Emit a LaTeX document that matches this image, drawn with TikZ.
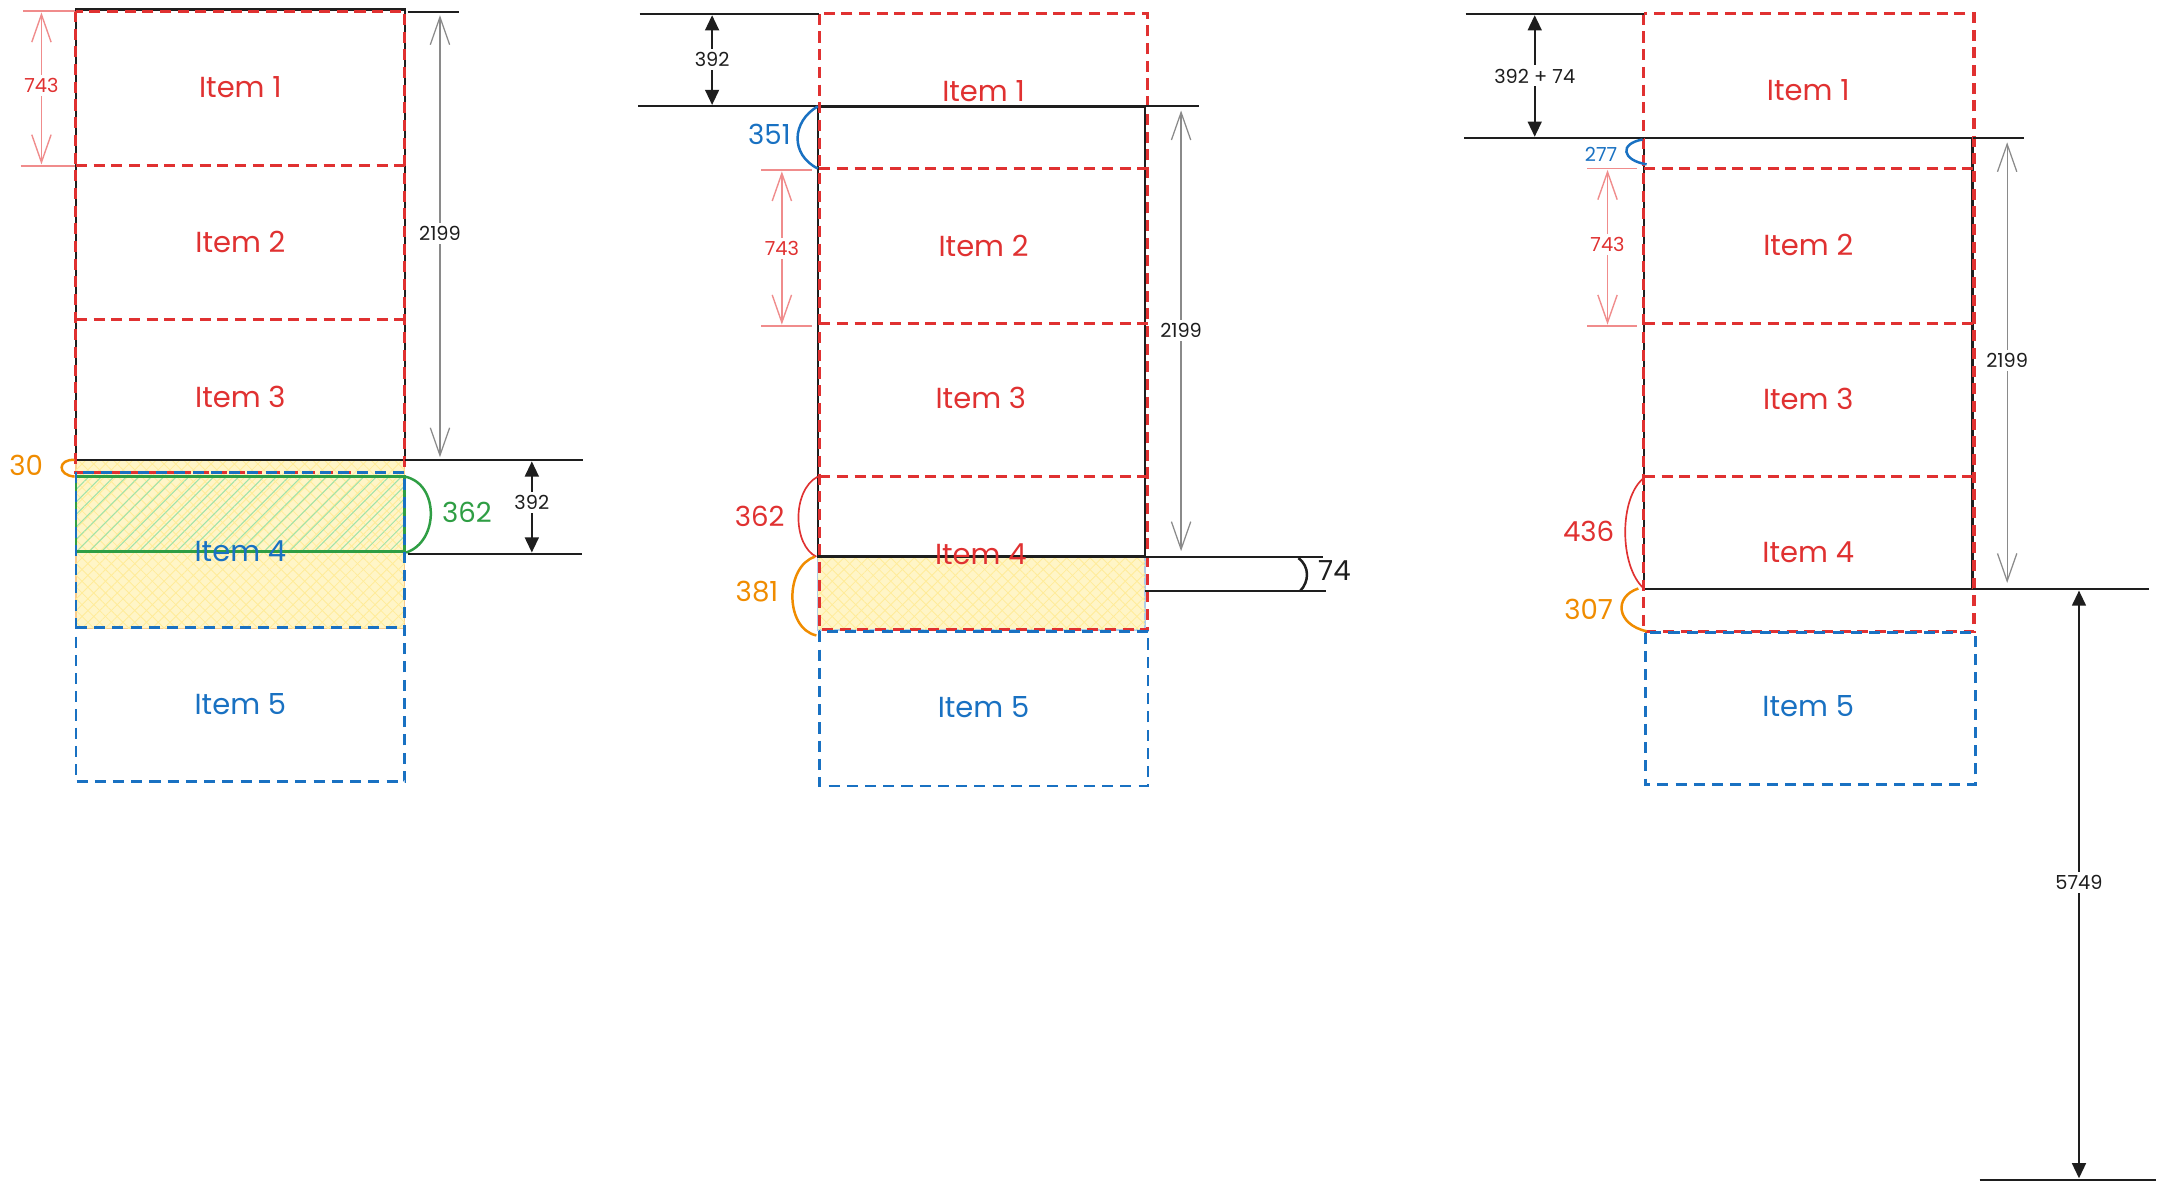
\documentclass[tikz,border=0pt]{standalone}
\usepackage{fontspec}
\setmainfont{Poppins}
\usetikzlibrary{arrows.meta,patterns,patterns.meta}

\definecolor{exred}{HTML}{E03131}
\definecolor{exblue}{HTML}{1971C2}
\definecolor{exgreen}{HTML}{2F9E44}
\definecolor{exorange}{HTML}{F08C00}
\definecolor{exink}{HTML}{1E1E1E}
\definecolor{exyellow}{HTML}{FFEC99}
\definecolor{exlgreen}{HTML}{9FE3AA}
\definecolor{palered}{HTML}{F08C8C}
\definecolor{dimgray}{HTML}{8A8A8A}

\tikzset{
  redbox/.style={draw=exred, line width=1.1pt, dash pattern=on 4pt off 2.4pt},
  bluebox/.style={draw=exblue, line width=1.0pt, dash pattern=on 4pt off 2.6pt},
  wall/.style={draw=exink, line width=0.9pt},
  guide/.style={draw=exink, line width=0.8pt},
  itemred/.style={text=exred, font=\fontsize{10.5}{11}\selectfont},
  itemblue/.style={text=exblue, font=\fontsize{10.5}{11}\selectfont},
  bignum/.style={font=\fontsize{10}{11}\selectfont, inner sep=1pt},
  smallnum/.style={font=\fontsize{7}{8}\selectfont, fill=white, inner sep=1.2pt},
  thindim/.style={draw=dimgray, line width=0.45pt,
    {Straight Barb[length=10pt,width=7pt]}-{Straight Barb[length=10pt,width=7pt]}},
  reddim/.style={draw=palered, line width=0.5pt,
    {Straight Barb[length=10pt,width=7pt]}-{Straight Barb[length=10pt,width=7pt]}},
  redext/.style={draw=palered, line width=0.6pt},
  blackdim/.style={draw=exink, line width=0.8pt,
    {Triangle[length=5.5pt,width=5pt]}-{Triangle[length=5.5pt,width=5pt]}},
  brace/.style={line width=0.9pt},
  yellowfill/.style={fill=exyellow!55,
    postaction={pattern={Lines[angle=45,distance=3pt,line width=0.3pt]}, pattern color=exyellow},
    postaction={pattern={Lines[angle=-45,distance=3pt,line width=0.3pt]}, pattern color=exyellow}},
  greenhatch/.style={pattern={Lines[angle=45,distance=3.2pt,line width=0.35pt]}, pattern color=exlgreen}
}

\begin{document}
\begin{tikzpicture}[x=0.5pt, y=-0.5pt]
\useasboundingbox[fill=white] (0,0) rectangle (1568,862);

%% ---------------- left column ----------------
% moving band and the overlapping item 4
\path[yellowfill, draw=exorange!45, line width=0.5pt] (55,333) rectangle (293,455);
\path[greenhatch] (55,345) rectangle (293,399);
\draw[draw=exgreen, line width=1pt] (55,345) rectangle (293,399);
% container
\draw[wall] (55,7) rectangle (293,333);
% item boxes: one outline per colour, dividers drawn once
\draw[redbox] (55,8) rectangle (293,342);
\draw[redbox] (55,120) -- (293,120);
\draw[redbox] (55,231) -- (293,231);
\draw[bluebox] (55,342) rectangle (293,566);
\draw[bluebox] (55,454) -- (293,454);
\node[itemred]  (a1) at (174,63)  {Item 1};
\node[itemred]  (a2) at (174,175) {Item 2};
\node[itemred]  (a3) at (174,287) {Item 3};
\node[itemblue] (a4) at (174,399) {Item 4};
\node[itemblue] (a5) at (174,510) {Item 5};
% item height
\draw[redext] (17,8) -- (54,8);
\draw[redext] (15,120) -- (54,120);
\coordinate (a743t) at (30,9);
\coordinate (a743b) at (30,119);
\draw[reddim] (a743t) -- (a743b);
\node[smallnum, text=exred] (a743) at (30,62) {743};
% container height
\draw[guide] (295,8.5) -- (332,8.5);
\coordinate (a2199t) at (318.5,11);
\coordinate (a2199b) at (318.5,331);
\draw[thindim] (a2199t) -- (a2199b);
\node[smallnum, text=exink] (a2199) at (318.5,169) {2199};
% scroll offset
\coordinate (aL1) at (293,333);
\coordinate (aL1e) at (422,333);
\coordinate (aL2) at (295,401);
\coordinate (aL2e) at (421,401);
\draw[guide] (aL1) -- (aL1e);
\draw[guide] (aL2) -- (aL2e);
\draw[blackdim] (385,334) -- (385,400);
\node[smallnum, text=exink] (a392) at (385,364) {392};
% brackets
\draw[brace, exorange] (54,333) .. controls (42,332) and (41,344) .. (54,345);
\node[bignum, text=exorange] (a30) at (19,337) {30};
\draw[brace, exgreen] (293,345) .. controls (318,350) and (318,392) .. (294,400);
\node[bignum, text=exgreen] (a362) at (338,371) {362};

%% ---------------- middle column ----------------
\path[yellowfill, draw=exblue!35, line width=0.5pt] (592,403) rectangle (829,456);
\draw[wall] (592,77) rectangle (829,403);
\draw[redbox] (593,10) rectangle (831,456);
\draw[redbox] (593,122) -- (831,122);
\draw[redbox] (593,234) -- (831,234);
\draw[redbox] (593,345) -- (831,345);
\draw[bluebox] (593,457) rectangle (831,569);
\node[itemred]  (b1) at (712,66)  {Item 1};
\node[itemred]  (b2) at (712,178) {Item 2};
\node[itemred]  (b3) at (710,288) {Item 3};
\node[itemred]  (b4) at (710,401) {Item 4};
\node[itemblue] (b5) at (712,512) {Item 5};
% reference lines
\draw[guide] (463,10) -- (593,10);
\draw[guide] (462,77) -- (592,77);
\draw[guide] (829,77) -- (868,77);
\draw[blackdim] (515.5,11) -- (515.5,76);
\node[smallnum, text=exink] (b392) at (515.5,43) {392};
% container height
\draw[thindim] (855,80) -- (855,399);
\node[smallnum, text=exink] (b2199) at (855,239) {2199};
% item height
\draw[redext] (551,123) -- (588,123);
\draw[redext] (551,236) -- (588,236);
\draw[reddim] (566,124) -- (566,235);
\node[smallnum, text=exred] (b743) at (566,180) {743};
% brackets
\draw[brace, exblue] (592,77) .. controls (573,88) and (572,112) .. (592,122);
\node[bignum, text=exblue] (b351) at (557,97) {351};
\draw[brace, exred, line width=0.6pt] (592,345) .. controls (573,355) and (574,395) .. (591,403);
\node[bignum, text=exred] (b362) at (550,374) {362};
\draw[brace, exorange] (590,403) .. controls (568,410) and (568,455) .. (591,460);
\node[bignum, text=exorange] (b381) at (548,428) {381};
% overflow
\draw[guide] (829,403) -- (958,403);
\draw[guide] (829,428) -- (960,428);
\draw[brace, exink] (940,404) .. controls (948,410) and (948,421) .. (941,428);
\node[bignum, text=exink] (b74) at (966,413) {74};

%% ---------------- right column ----------------
\draw[wall] (1190,100) rectangle (1428,426.5);
\draw[redbox] (1190,10) rectangle (1429,457);
\draw[redbox] (1190,122) -- (1429,122);
\draw[redbox] (1190,234) -- (1429,234);
\draw[redbox] (1190,345) -- (1429,345);
\draw[bluebox] (1191,458) rectangle (1430,568);
\node[itemred]  (c1) at (1309,65)  {Item 1};
\node[itemred]  (c2) at (1309,177) {Item 2};
\node[itemred]  (c3) at (1309,289) {Item 3};
\node[itemred]  (c4) at (1309,400) {Item 4};
\node[itemblue] (c5) at (1309,511) {Item 5};
% reference lines
\draw[guide] (1061,10) -- (1190,10);
\draw[guide] (1060,100) -- (1190,100);
\draw[guide] (1428,100) -- (1465,100);
\draw[guide] (1428,426.5) -- (1556,426.5);
\draw[guide] (1433,854) -- (1561,854);
\draw[blackdim] (1111,11) -- (1111,99);
\node[smallnum, text=exink] (c392) at (1111,55) {392 + 74};
% item height
\draw[redext] (1149,122) -- (1185,122);
\draw[redext] (1149,236) -- (1185,236);
\draw[reddim] (1163.7,123) -- (1163.7,235);
\node[smallnum, text=exred] (c743) at (1163.7,177) {743};
% container height
\draw[thindim] (1453,103) -- (1453,422);
\node[smallnum, text=exink] (c2199) at (1453,261) {2199};
% distance to the end
\draw[blackdim] (1505,427.5) -- (1505,853);
\node[smallnum, text=exink] (c5749) at (1505,639) {5749};
% brackets
\draw[brace, exblue] (1189,101) .. controls (1172,104) and (1174,116) .. (1192,119);
\node[smallnum, text=exblue, fill=none] (c277) at (1159,112) {277};
\draw[brace, exred, line width=0.6pt] (1190,346) .. controls (1172,360) and (1172,410) .. (1190,426);
\node[bignum, text=exred] (c436) at (1150,385) {436};
\draw[brace, exorange] (1186,426) .. controls (1168,432) and (1170,452) .. (1192,457);
\node[bignum, text=exorange] (c307) at (1150,441) {307};
\end{tikzpicture}
\end{document}
